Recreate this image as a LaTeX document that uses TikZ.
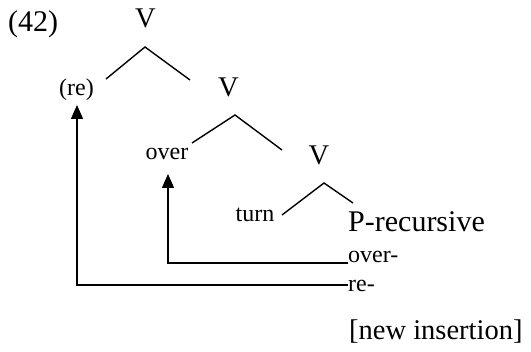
\documentclass[tikz,border=0pt]{standalone}
\usepackage{fontspec}
\setmainfont{Liberation Serif}
\usetikzlibrary{arrows.meta}
\begin{document}
\begin{tikzpicture}[x=1pt,y=-1pt,
  big/.style={inner sep=0pt,font=\fontsize{28.5}{30}\selectfont},
  bigger/.style={inner sep=0pt,font=\fontsize{30}{32}\selectfont},
  small/.style={inner sep=0pt,font=\fontsize{24}{26}\selectfont},
  branch/.style={line width=1.4pt},
  movement/.style={line width=1.4pt,-{Triangle[width=12pt,length=14pt]}}]
\useasboundingbox (0,0) rectangle (531,352);
% example number
\node[bigger,anchor=base west] (num) at (8,32) {(42)};
% tree
\node[big,anchor=base] (v1) at (145.5,28) {V};
\node[small,anchor=base] (re) at (76.5,96) {(re)};
\node[big,anchor=base] (v2) at (228.5,97) {V};
\node[small,anchor=base] (over) at (167,160) {over};
\node[big,anchor=base] (v3) at (319,165) {V};
\node[small,anchor=base] (turn) at (255,222) {turn};
\node[bigger,anchor=base west] (prec) at (348,232) {P-recursive};
\node[small,anchor=base west] (overd) at (348,263) {over-};
\node[small,anchor=base west] (red) at (348,292) {re-};
\node[big,anchor=base west] (newins) at (349,340) {[new insertion]};
% branch end points
\coordinate (a1) at (145,47); \coordinate (l1) at (106,79); \coordinate (r1) at (190,80);
\coordinate (a2) at (235,115); \coordinate (l2) at (192,143); \coordinate (r2) at (282,150);
\coordinate (a3) at (324,183); \coordinate (l3) at (282,215); \coordinate (r3) at (353,203);
\draw[branch] (l1) -- (a1) -- (r1);
\draw[branch] (l2) -- (a2) -- (r2);
\draw[branch] (l3) -- (a3) -- (r3);
% movement arrows
\coordinate (overtip) at (168,174);
\coordinate (retip) at (77,105);
\draw[movement] (overd.west |- 0,263) -| (overtip);
\draw[movement] (red.west |- 0,285) -| (retip);
\end{tikzpicture}
\end{document}
